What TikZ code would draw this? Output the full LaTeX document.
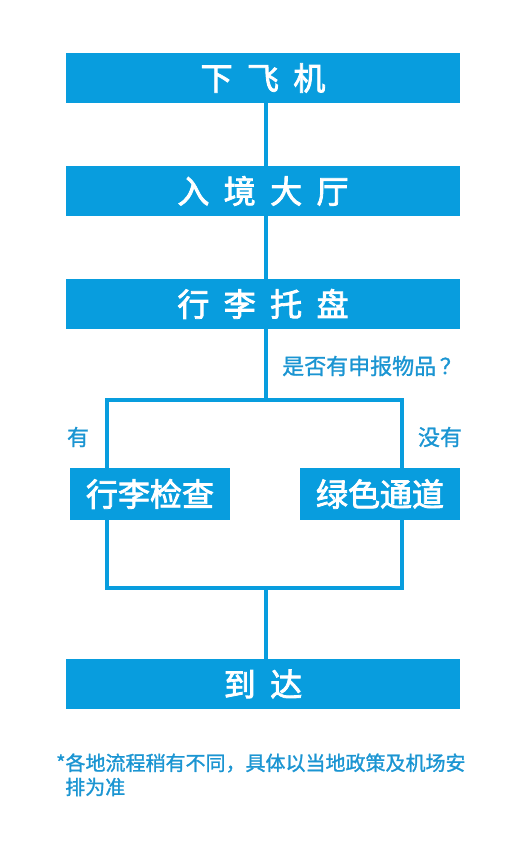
\documentclass[tikz,border=0pt]{standalone}
\usepackage{fontspec}
\setmainfont{Noto Sans CJK SC}
\newfontfamily\boxfont[FakeBold=2.5]{Noto Sans CJK SC}
\newfontfamily\labelfont[FakeBold=1.2]{Noto Sans CJK SC}
\usetikzlibrary{shapes,arrows,positioning,calc}
\definecolor{boxblue}{RGB}{8,157,222}
\definecolor{textblue}{RGB}{27,149,210}
\newcommand{\gap}{\hspace{.45em}}

\begin{document}
\begin{tikzpicture}[x=1pt,y=1pt,node distance=113pt,
  stage/.style={rectangle,fill=boxblue,text=white,inner sep=0pt,minimum width=394pt,minimum height=50pt,font=\boxfont\fontsize{32}{36}\selectfont},
  branch/.style={rectangle,fill=boxblue,text=white,inner sep=0pt,minimum width=160pt,minimum height=52pt,font=\boxfont\fontsize{32}{36}\selectfont},
  label/.style={text=textblue,inner sep=0pt,font=\labelfont\fontsize{22}{26}\selectfont},
  flow/.style={boxblue,line width=3.5pt}]
  \useasboundingbox (0,0) rectangle (520,-845);

  \node[stage] (fly) at (263,-78) {下\gap 飞\gap 机};
  \node[stage,below of=fly] (hall) {入\gap 境\gap 大\gap 厅};
  \node[stage,below of=hall] (tray) {行\gap 李\gap 托\gap 盘};
  \node[branch] (check) at (150,-494) {行李检查};
  \node[branch] (green) at (380,-494) {绿色通道};
  \node[stage] (arrive) at (263,-684) {到\gap 达};

  % trunk line and the two branches
  \coordinate (trunk) at (266,0);
  \coordinate (split) at (266,-400);
  \coordinate (lft) at (107,-400);
  \coordinate (rgt) at (402,-400);
  \coordinate (join) at (266,-588);

  \node[label,anchor=west] (ask) at (282,-366) {是否有申报物品\,？};
  \node[label] (yes) at (78,-437) {有};
  \node[label] (no) at (440,-437) {没有};

  \draw[flow] (fly.south -| trunk) -- (hall.north -| trunk);
  \draw[flow] (hall.south -| trunk) -- (tray.north -| trunk);
  \draw[flow] (tray.south -| trunk) -- (split);
  \draw[flow] (check.north -| lft) -- (lft) -- (rgt) -- (green.north -| rgt);
  \draw[flow] (check.south -| lft) |- (join) -| (green.south -| rgt);
  \draw[flow] (join) -- (arrive.north -| trunk);

  \node[label,anchor=west,font=\labelfont\fontsize{20}{24}\selectfont] (note) at (56,-763) {*各地流程稍有不同，具体以当地政策及机场安};
  \node[label,anchor=west,font=\labelfont\fontsize{20}{24}\selectfont] (note2) at (65,-787) {排为准};
\end{tikzpicture}
\end{document}
